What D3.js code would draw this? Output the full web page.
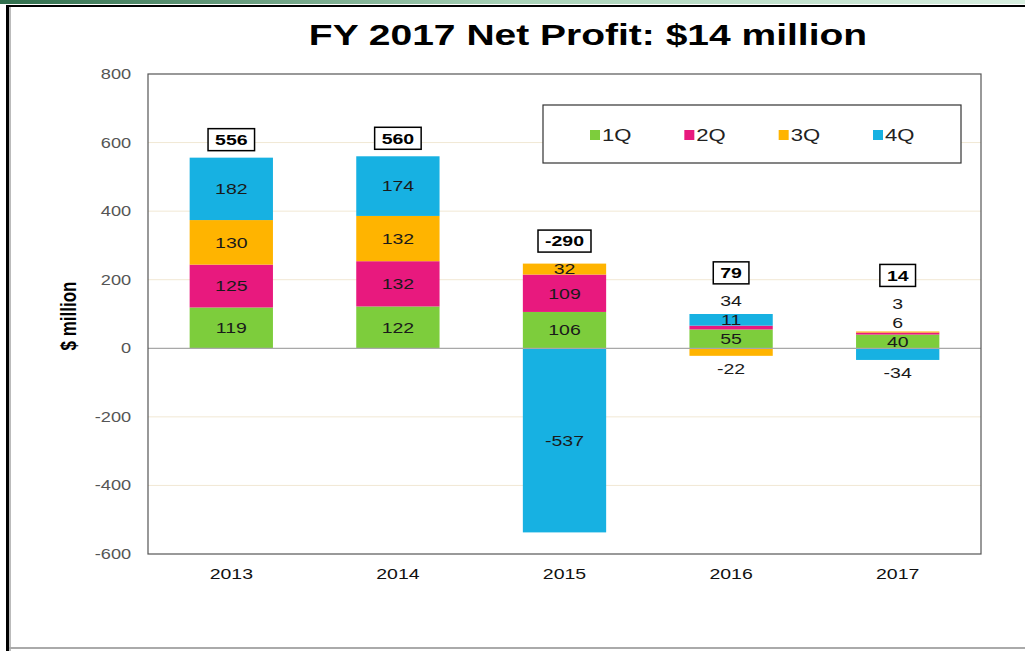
<!DOCTYPE html>
<html><head><meta charset="utf-8">
<script src="https://cdn.jsdelivr.net/npm/d3@7"></script>
<style>body{margin:0;background:#fff;}svg{display:block;font-family:"Liberation Sans",Arial,sans-serif;}</style>
</head><body>
<svg id="c" width="1025" height="651"></svg>
<script>
const years = ["2013","2014","2015","2016","2017"];
const quarters = ["1Q","2Q","3Q","4Q"];
const q1 = [119,122,106,55,40];
const q2 = [125,132,109,11,6];
const q3 = [130,132,32,-22,3];
const q4 = [182,174,-537,34,-34];
const totals = ["556","560","-290","79","14"];
const yTicks = [-600,-400,-200,0,200,400,600,800];
const colors = ["#7dcd3c","#e8197e","#ffb400","#17b1e2"];
const SX = 1.3;

const svg = d3.select("#c");
// frame
const defs = svg.append("defs");
const g1 = defs.append("linearGradient").attr("id","tg");
g1.append("stop").attr("offset","0").attr("stop-color","#2f6e4c");
g1.append("stop").attr("offset","0.5").attr("stop-color","#a9d3b8");
g1.append("stop").attr("offset","1").attr("stop-color","#d8efe0");
svg.append("rect").attr("x",0).attr("y",0).attr("width",1025).attr("height",4).attr("fill","url(#tg)");
svg.append("rect").attr("x",6).attr("y",5).attr("width",1019).attr("height",2).attr("fill","#000");
svg.append("rect").attr("x",6).attr("y",5).attr("width",3).attr("height",646).attr("fill","#000");
svg.append("rect").attr("x",9).attr("y",7).attr("width",2).attr("height",644).attr("fill","#bbb");
svg.append("rect").attr("x",9).attr("y",647).attr("width",1016).attr("height",2).attr("fill","#aaa");

function stext(sel, x, y, str){
  return sel.append("text").attr("transform",`translate(${x},${y}) scale(${SX},1)`).text(str);
}

const L=148,R=981,T=74,B=554;
const x = d3.scaleBand().domain(years).range([L,R]).paddingInner(0.5).paddingOuter(0.25);
const y = d3.scaleLinear().domain([-600,800]).range([B,T]);

// gridlines
svg.append("g").selectAll("line").data(yTicks.filter(v=>v!==0&&v!==800&&v!==-600)).join("line")
  .attr("x1",L).attr("x2",R).attr("y1",d=>y(d)).attr("y2",d=>y(d))
  .attr("stroke","#f1e8d4").attr("stroke-width",1);

// title
stext(svg,588,45,"FY 2017 Net Profit: $14 million")
  .attr("text-anchor","middle").attr("font-size",30).attr("font-weight","bold").attr("fill","#000");

// data table
const table = years.map((yr,i)=>({year:yr,"1Q":q1[i],"2Q":q2[i],"3Q":q3[i],"4Q":q4[i]}));
const series = d3.stack().keys(quarters).offset(d3.stackOffsetDiverging)(table);

const bars = svg.append("g");
series.forEach((s,si)=>{
  bars.selectAll(null).data(s).join("rect")
    .attr("x",d=>x(d.data.year)).attr("width",x.bandwidth())
    .attr("y",d=>y(Math.max(d[0],d[1]))).attr("height",d=>Math.abs(y(d[0])-y(d[1])))
    .attr("fill",colors[si]);
});

// zero line
svg.append("line").attr("x1",L).attr("x2",R).attr("y1",y(0)).attr("y2",y(0)).attr("stroke","#a8a8a8").attr("stroke-width",1.2);

// plot border
svg.append("rect").attr("x",L).attr("y",T).attr("width",R-L).attr("height",B-T)
  .attr("fill","none").attr("stroke","#555").attr("stroke-width",1.2);

// labels
const lab = svg.append("g").attr("font-size",15).attr("fill","#1a1a1a").attr("text-anchor","middle");
const boxG = svg.append("g");
years.forEach((yr,i)=>{
  const cx = x(yr)+x.bandwidth()/2;
  const segs = series.map((s,si)=>({v:s[i].data[quarters[si]], a:s[i][0], b:s[i][1]}));
  const pos = segs.filter(d=>d.v>0).sort((p,q)=>p.a-q.a);
  let prev = Infinity, topLabel = Infinity;
  pos.forEach(d=>{
    const mid = (y(d.a)+y(d.b))/2;
    const ly = Math.min(mid, prev-19);
    prev = ly; topLabel = ly;
    stext(lab,cx,ly,d.v).attr("dy","0.35em");
  });
  const neg = segs.filter(d=>d.v<0);
  neg.forEach(d=>{
    const h = Math.abs(y(d.a)-y(d.b));
    const ly = h<25 ? y(Math.min(d.a,d.b))+13 : (y(d.a)+y(d.b))/2;
    stext(lab,cx,ly,d.v).attr("dy","0.35em");
  });
  const posTop = y(d3.max(pos,d=>d.b));
  const by = Math.min(posTop-7, topLabel-17) - 11;
  const t = stext(boxG,cx,by,totals[i]).attr("text-anchor","middle").attr("dy","0.36em")
    .attr("font-size",15).attr("font-weight","bold").attr("fill","#000");
  const w = t.node().getComputedTextLength()*SX + 14;
  boxG.insert("rect","text").attr("x",cx-w/2).attr("y",by-11).attr("width",w).attr("height",22)
    .attr("fill","#fff").attr("stroke","#000").attr("stroke-width",1.5);
});

// y axis
const ya = svg.append("g").attr("transform",`translate(${L},0)`)
  .call(d3.axisLeft(y).tickValues(yTicks).tickSize(0).tickFormat(d=>String(d)));
ya.select(".domain").remove();
ya.selectAll("text").attr("x",-13).attr("transform",`scale(${SX},1)`)
  .attr("font-size",14).attr("fill","#555").attr("font-family","Liberation Sans, Arial, sans-serif");

// x axis
const xa = svg.append("g").attr("transform",`translate(0,${B})`)
  .call(d3.axisBottom(x).tickSize(0).tickPadding(14));
xa.select(".domain").remove();
xa.selectAll("text").attr("transform",`scale(${SX},1)`)
  .attr("font-size",15).attr("fill","#111").attr("font-family","Liberation Sans, Arial, sans-serif");

// y title
svg.append("text").attr("transform","translate(76,316) rotate(-90) scale(1,1.3)")
  .attr("text-anchor","middle").attr("font-size",17).attr("font-weight","bold")
  .attr("font-family","'Liberation Sans Narrow','Arial Narrow','Liberation Sans',sans-serif")
  .attr("fill","#000").text("$ million");

// legend
const lg = svg.append("g");
lg.append("rect").attr("x",543).attr("y",105).attr("width",418).attr("height",58)
  .attr("fill","#fff").attr("stroke","#333").attr("stroke-width",1.2);
const lx = d3.scalePoint().domain(quarters).range([590,873]);
quarters.forEach((q,i)=>{
  lg.append("rect").attr("x",lx(q)).attr("y",130).attr("width",10).attr("height",10).attr("fill",colors[i]);
  stext(lg,lx(q)+12,135,q).attr("dy","0.36em").attr("font-size",17).attr("fill","#222");
});
</script>
</body></html>
